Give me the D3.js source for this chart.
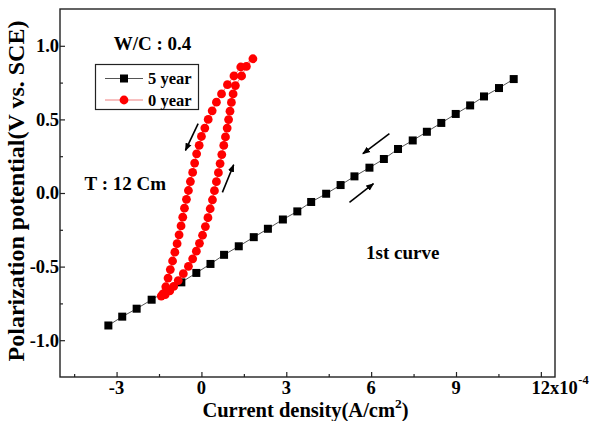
<!DOCTYPE html>
<html><head><meta charset="utf-8">
<script src="https://cdn.jsdelivr.net/npm/d3@7"></script>
<style>
body{margin:0;background:#fff}
svg text{font-family:"Liberation Serif","Times New Roman",serif;font-weight:bold;fill:#000}
</style>
</head><body>
<svg id="chart" width="593" height="421"></svg>
<script>
// ---- data (current density in 1e-4 A/cm2, potential in V vs SCE) ----
const year5X = [-3.29,-2.80,-2.29,-1.76,-1.23,-0.71,-0.18,0.32,0.80,1.32,1.85,2.35,2.88,3.39,3.88,4.41,4.92,5.41,5.94,6.45,6.95,7.47,7.97,8.48,8.99,9.50,9.99,10.52,11.04];
const year5Y = [-0.900,-0.840,-0.786,-0.725,-0.665,-0.607,-0.543,-0.482,-0.420,-0.362,-0.300,-0.243,-0.180,-0.125,-0.061,-0.005,0.054,0.113,0.172,0.231,0.299,0.357,0.416,0.476,0.537,0.595,0.656,0.713,0.774];

const year0X = [-1.42,-1.28,-1.12,-0.98,-0.82,-0.64,-0.46,-0.31,-0.18,-0.07,0.04,0.14,0.23,0.31,0.39,0.46,0.53,0.60,0.66,0.72,0.79,0.85,0.91,0.96,1.01,1.06,1.12,1.20,1.42,1.59,1.82,
                1.39,1.15,0.92,0.71,0.53,0.38,0.24,0.12,0.00,-0.08,-0.17,-0.24,-0.31,-0.39,-0.46,-0.53,-0.60,-0.66,-0.72,-0.79,-0.86,-0.94,-1.02,-1.10,-1.18,-1.26,-1.36];
const year0Y = [-0.700,-0.690,-0.665,-0.635,-0.595,-0.548,-0.498,-0.447,-0.395,-0.342,-0.287,-0.228,-0.168,-0.107,-0.046,0.016,0.077,0.138,0.200,0.261,0.323,0.381,0.441,0.499,0.556,0.615,0.673,0.730,0.795,0.860,0.912,
                0.856,0.795,0.736,0.673,0.617,0.558,0.500,0.441,0.384,0.324,0.266,0.203,0.140,0.078,0.017,-0.043,-0.103,-0.164,-0.224,-0.284,-0.344,-0.402,-0.462,-0.520,-0.578,-0.637,-0.685];

const seriesNames = ["5 year","0 year"];
const xTicks = [-3,0,3,6,9,12];
const xMinorTicks = [-4.5,-1.5,1.5,4.5,7.5,10.5];
const yTicks = [-1.0,-0.5,0.0,0.5,1.0];
const yMinorTicks = [-0.75,-0.25,0.25,0.75];
const xDomain = [-5,12.5];
const yDomain = [-1.25,1.25];

// arrows: [x1,y1,x2,y2] in data units, arrow head at (x2,y2)
const arrows = [
  [-0.116,0.471,-0.565,0.289],
  [0.741,0.004,1.14,0.192],
  [6.646,0.403,5.707,0.267],
  [5.234,-0.064,6.081,0.063]
];
const notes = [
  {text:"W/C : 0.4", x:-3.1, y:0.973},
  {text:"T : 12 Cm", x:-4.13, y:0.018},
  {text:"1st curve", x:5.82, y:-0.446}
];

// ---- drawing ----
const svg = d3.select("#chart");
const L=60, R=555, T=9, B=377;
const xs = d3.scaleLinear().domain(xDomain).range([L,R]);
const ys = d3.scaleLinear().domain(yDomain).range([B,T]);

const defs = svg.append("defs");
defs.append("marker").attr("id","ah").attr("viewBox","0 0 10 10")
  .attr("refX",9).attr("refY",5).attr("markerWidth",5).attr("markerHeight",5)
  .attr("orient","auto").attr("markerUnits","strokeWidth")
  .append("path").attr("d","M0,1 L10,5 L0,9 z").attr("fill","#000");

// axes with inward ticks
svg.append("g").attr("transform",`translate(0,${B})`)
  .call(d3.axisBottom(xs).tickValues(xTicks).tickSizeInner(-5).tickSizeOuter(0).tickFormat(""));
svg.append("g").attr("transform",`translate(0,${B})`)
  .call(d3.axisBottom(xs).tickValues(xMinorTicks).tickSizeInner(-3).tickSizeOuter(0).tickFormat(""));
svg.append("g").attr("transform",`translate(${L},0)`)
  .call(d3.axisLeft(ys).tickValues(yTicks).tickSizeInner(-5).tickSizeOuter(0).tickFormat(""));
svg.append("g").attr("transform",`translate(${L},0)`)
  .call(d3.axisLeft(ys).tickValues(yMinorTicks).tickSizeInner(-3).tickSizeOuter(0).tickFormat(""));
svg.selectAll(".domain").remove();
svg.selectAll(".tick line").attr("stroke","#222").attr("stroke-width",1.2);

// frame
svg.append("rect").attr("x",L).attr("y",T).attr("width",R-L).attr("height",B-T)
  .attr("fill","none").attr("stroke","#222").attr("stroke-width",1.4);

// tick labels
svg.append("g").selectAll("text").data(yTicks).join("text")
  .attr("x",L-1).attr("y",d=>ys(d)).attr("dy","0.35em").attr("text-anchor","end")
  .attr("font-size",18.5).text(d=>d3.format(".1f")(d).replace("−","-"));

const xl = svg.append("g");
const tickY = 394;
xTicks.forEach(t=>{
  const tx = xl.append("text").attr("x",xs(t)).attr("y",tickY).attr("text-anchor","middle")
      .attr("font-size",18.5).text(String(t).replace("−","-"));
  if(t===12){
    const w = tx.node().getComputedTextLength();
    const x0 = xs(t)+w/2;
    const ex = xl.append("text").attr("x",x0).attr("y",tickY).attr("font-size",18.5).text("x10");
    const w2 = ex.node().getComputedTextLength();
    xl.append("text").attr("x",x0+w2+0.5).attr("y",tickY-10).attr("font-size",12.5).text("-4");
  }
});

// axis titles
const xt = svg.append("text").attr("x",(L+R)/2 - 2).attr("y",417).attr("text-anchor","middle").attr("font-size",20.5);
xt.append("tspan").text("Current density(A/cm");
xt.append("tspan").attr("dy",-9).attr("font-size",13.5).text("2");
xt.append("tspan").attr("dy",9).text(")");

svg.append("text").attr("transform",`translate(24,${(T+B)/2-2}) rotate(-90)`)
  .attr("text-anchor","middle").attr("font-size",24)
  .text("Polarization potential(V vs. SCE)");

// series
const pts5 = year5X.map((x,i)=>[x,year5Y[i]]);
const pts0 = year0X.map((x,i)=>[x,year0Y[i]]);
const line = d3.line().x(d=>xs(d[0])).y(d=>ys(d[1]));

svg.append("path").attr("d",line(pts5)).attr("fill","none").attr("stroke","#555").attr("stroke-width",1);
const sq = 8;
svg.append("g").selectAll("rect").data(pts5).join("rect")
  .attr("x",d=>xs(d[0])-sq/2).attr("y",d=>ys(d[1])-sq/2).attr("width",sq).attr("height",sq).attr("fill","#000");

svg.append("path").attr("d",line(pts0)).attr("fill","none").attr("stroke","#f08080").attr("stroke-width",1);
svg.append("g").selectAll("circle").data(pts0).join("circle")
  .attr("cx",d=>xs(d[0])).attr("cy",d=>ys(d[1])).attr("r",4.4).attr("fill","#ff0000");

// arrows
svg.append("g").selectAll("line").data(arrows).join("line")
  .attr("x1",d=>xs(d[0])).attr("y1",d=>ys(d[1])).attr("x2",d=>xs(d[2])).attr("y2",d=>ys(d[3]))
  .attr("stroke","#000").attr("stroke-width",1.6).attr("marker-end","url(#ah)");

// notes
svg.append("g").selectAll("text").data(notes).join("text")
  .attr("x",d=>xs(d.x)).attr("y",d=>ys(d.y)).attr("font-size",19).text(d=>d.text);

// legend
const lg = svg.append("g");
lg.append("rect").attr("x",95.5).attr("y",64.5).attr("width",103).attr("height",45)
  .attr("fill","#fff").attr("stroke","#222").attr("stroke-width",1.2);
const rows = [78.5,100];
lg.append("line").attr("x1",105).attr("x2",143).attr("y1",rows[0]).attr("y2",rows[0]).attr("stroke","#555").attr("stroke-width",1);
lg.append("rect").attr("x",124-sq/2).attr("y",rows[0]-sq/2).attr("width",sq).attr("height",sq).attr("fill","#000");
lg.append("line").attr("x1",105).attr("x2",143).attr("y1",rows[1]).attr("y2",rows[1]).attr("stroke","#f08080").attr("stroke-width",1);
lg.append("circle").attr("cx",124).attr("cy",rows[1]).attr("r",4.4).attr("fill","#ff0000");
lg.selectAll("text.lt").data(seriesNames).join("text").attr("class","lt")
  .attr("x",148).attr("y",(d,i)=>rows[i]+5.5).attr("font-size",16.5).text(d=>d);
</script>
</body></html>
